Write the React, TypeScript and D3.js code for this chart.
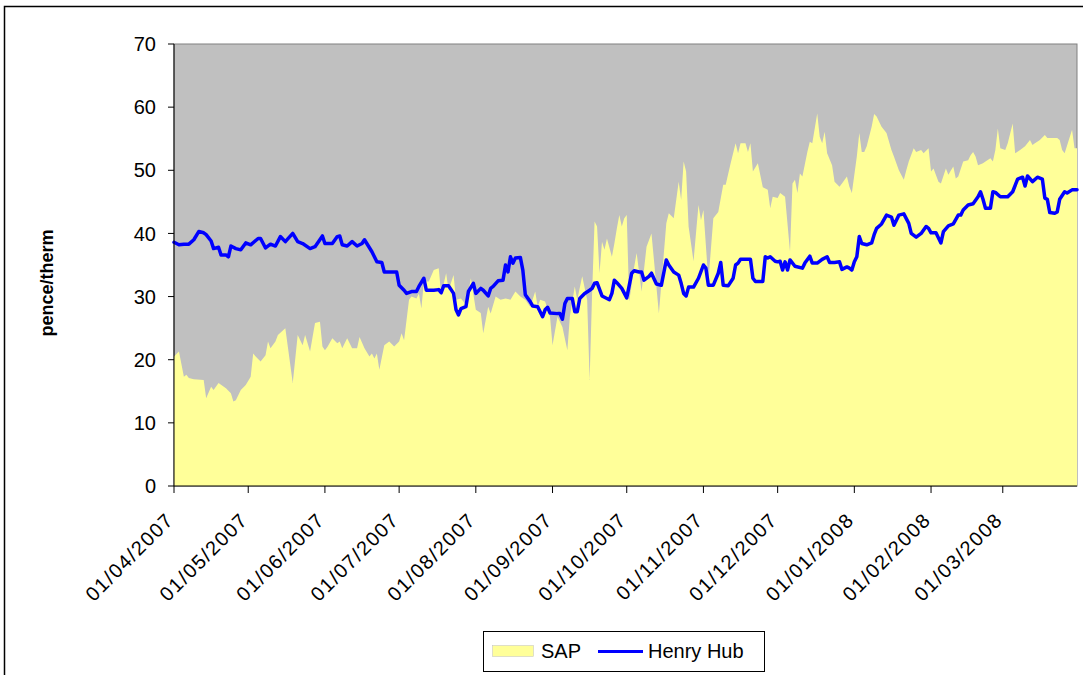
import React from "react";
import * as d3 from "d3";

// SAP daily price, pence/therm
const sap: [string, number][] = [
  ["2007-04-01", 20.5], ["2007-04-03", 21.3], ["2007-04-05", 17.3], ["2007-04-06", 17.6], ["2007-04-07", 17.1],
  ["2007-04-09", 16.9], ["2007-04-13", 16.8], ["2007-04-14", 13.9], ["2007-04-16", 15.7], ["2007-04-17", 15.2],
  ["2007-04-19", 16.3], ["2007-04-22", 15.5], ["2007-04-24", 14.7], ["2007-04-25", 13.4], ["2007-04-26", 13.6],
  ["2007-04-28", 15.2], ["2007-04-30", 16.0],
  ["2007-05-02", 17.3], ["2007-05-03", 21.0], ["2007-05-04", 20.5], ["2007-05-06", 19.7], ["2007-05-08", 20.7],
  ["2007-05-09", 22.9], ["2007-05-10", 21.8], ["2007-05-12", 22.9], ["2007-05-13", 23.9], ["2007-05-16", 25.0],
  ["2007-05-17", 22.1], ["2007-05-19", 16.3], ["2007-05-21", 23.9], ["2007-05-23", 22.3], ["2007-05-24", 23.9],
  ["2007-05-26", 21.3], ["2007-05-28", 25.8], ["2007-05-30", 26.0], ["2007-05-31", 22.1],
  ["2007-06-01", 21.5], ["2007-06-02", 22.0], ["2007-06-04", 23.4], ["2007-06-06", 22.6], ["2007-06-07", 22.9],
  ["2007-06-08", 21.8], ["2007-06-10", 23.4], ["2007-06-12", 21.8], ["2007-06-14", 21.8], ["2007-06-15", 23.6],
  ["2007-06-17", 21.8], ["2007-06-19", 20.5], ["2007-06-20", 21.0], ["2007-06-21", 20.2], ["2007-06-22", 21.0],
  ["2007-06-23", 18.4], ["2007-06-25", 22.3], ["2007-06-27", 22.9], ["2007-06-29", 22.1],
  ["2007-07-01", 22.9], ["2007-07-02", 24.2], ["2007-07-03", 23.1], ["2007-07-05", 29.5], ["2007-07-06", 30.0],
  ["2007-07-08", 29.7], ["2007-07-09", 30.5], ["2007-07-10", 28.1], ["2007-07-11", 32.4], ["2007-07-13", 32.4],
  ["2007-07-15", 34.2], ["2007-07-17", 34.5], ["2007-07-18", 30.3], ["2007-07-20", 33.7], ["2007-07-21", 31.0],
  ["2007-07-23", 33.4], ["2007-07-24", 29.5], ["2007-07-26", 29.7], ["2007-07-28", 28.7], ["2007-07-30", 32.9],
  ["2007-08-01", 27.9], ["2007-08-03", 27.4], ["2007-08-04", 24.2], ["2007-08-06", 28.4], ["2007-08-07", 27.3],
  ["2007-08-09", 30.0], ["2007-08-11", 29.5], ["2007-08-13", 29.7], ["2007-08-15", 29.5], ["2007-08-17", 30.8],
  ["2007-08-19", 30.0], ["2007-08-21", 29.5], ["2007-08-23", 28.4], ["2007-08-25", 30.8], ["2007-08-26", 28.4],
  ["2007-08-27", 29.5], ["2007-08-29", 29.2], ["2007-08-31", 26.8],
  ["2007-09-01", 22.3], ["2007-09-03", 26.8], ["2007-09-05", 25.2], ["2007-09-07", 21.5], ["2007-09-08", 26.8],
  ["2007-09-10", 31.6], ["2007-09-11", 29.5], ["2007-09-13", 33.2], ["2007-09-15", 29.5], ["2007-09-16", 16.8],
  ["2007-09-17", 30.5], ["2007-09-18", 41.9], ["2007-09-19", 41.1], ["2007-09-20", 33.7], ["2007-09-21", 38.7],
  ["2007-09-22", 37.4], ["2007-09-23", 39.2], ["2007-09-25", 36.3], ["2007-09-26", 38.4], ["2007-09-27", 40.8],
  ["2007-09-28", 42.9], ["2007-09-29", 41.1], ["2007-09-30", 42.4],
  ["2007-10-01", 42.9], ["2007-10-02", 29.2], ["2007-10-04", 34.7], ["2007-10-05", 36.9], ["2007-10-07", 30.8],
  ["2007-10-09", 37.9], ["2007-10-11", 40.0], ["2007-10-12", 35.8], ["2007-10-14", 27.3], ["2007-10-15", 32.1],
  ["2007-10-17", 41.6], ["2007-10-18", 43.2], ["2007-10-20", 42.4], ["2007-10-22", 48.2], ["2007-10-23", 45.3],
  ["2007-10-24", 51.4], ["2007-10-25", 49.8], ["2007-10-26", 41.1], ["2007-10-28", 35.6], ["2007-10-30", 44.5],
  ["2007-10-31", 42.1],
  ["2007-11-01", 43.7], ["2007-11-03", 32.4], ["2007-11-05", 42.4], ["2007-11-07", 43.4], ["2007-11-09", 47.7],
  ["2007-11-10", 47.7], ["2007-11-12", 51.1], ["2007-11-14", 54.3], ["2007-11-15", 52.7], ["2007-11-16", 54.3],
  ["2007-11-18", 54.3], ["2007-11-19", 52.9], ["2007-11-20", 54.3], ["2007-11-21", 49.8], ["2007-11-23", 51.1],
  ["2007-11-25", 47.3], ["2007-11-27", 46.9], ["2007-11-28", 44.0], ["2007-11-29", 45.8],
  ["2007-12-01", 45.6], ["2007-12-02", 46.4], ["2007-12-04", 45.8], ["2007-12-06", 37.1], ["2007-12-07", 47.9],
  ["2007-12-08", 48.5], ["2007-12-09", 46.4], ["2007-12-10", 49.5], ["2007-12-11", 49.0], ["2007-12-13", 52.9],
  ["2007-12-14", 54.5], ["2007-12-15", 54.3], ["2007-12-17", 59.0], ["2007-12-18", 55.3], ["2007-12-19", 54.3],
  ["2007-12-20", 56.1], ["2007-12-21", 52.7], ["2007-12-23", 50.8], ["2007-12-24", 48.2], ["2007-12-26", 47.4],
  ["2007-12-27", 47.9], ["2007-12-29", 49.0], ["2007-12-30", 47.4], ["2007-12-31", 46.4],
  ["2008-01-02", 52.2], ["2008-01-03", 55.9], ["2008-01-04", 52.9], ["2008-01-05", 52.9], ["2008-01-06", 53.8],
  ["2008-01-08", 56.9], ["2008-01-09", 58.9], ["2008-01-10", 58.5], ["2008-01-12", 56.9], ["2008-01-14", 55.9],
  ["2008-01-16", 53.2], ["2008-01-17", 52.2], ["2008-01-19", 50.0], ["2008-01-21", 48.5], ["2008-01-22", 50.0],
  ["2008-01-23", 51.4], ["2008-01-25", 53.5], ["2008-01-26", 52.9], ["2008-01-28", 53.2], ["2008-01-29", 52.7],
  ["2008-01-31", 53.5],
  ["2008-02-01", 49.8], ["2008-02-02", 50.3], ["2008-02-04", 48.2], ["2008-02-05", 47.9], ["2008-02-07", 50.3],
  ["2008-02-08", 49.3], ["2008-02-10", 50.6], ["2008-02-11", 48.7], ["2008-02-12", 49.0], ["2008-02-14", 51.4],
  ["2008-02-16", 51.6], ["2008-02-17", 52.4], ["2008-02-18", 52.9], ["2008-02-19", 52.2], ["2008-02-20", 50.8],
  ["2008-02-22", 51.1], ["2008-02-23", 51.4], ["2008-02-25", 51.9], ["2008-02-26", 51.4], ["2008-02-27", 53.2],
  ["2008-02-28", 56.6], ["2008-02-29", 53.5],
  ["2008-03-02", 53.2], ["2008-03-03", 54.3], ["2008-03-05", 57.4], ["2008-03-06", 52.7], ["2008-03-08", 53.2],
  ["2008-03-10", 53.8], ["2008-03-12", 54.8], ["2008-03-13", 54.0], ["2008-03-14", 54.3], ["2008-03-16", 54.8],
  ["2008-03-18", 55.6], ["2008-03-19", 55.1], ["2008-03-21", 55.1], ["2008-03-23", 55.1], ["2008-03-24", 54.8],
  ["2008-03-25", 53.2], ["2008-03-26", 52.7], ["2008-03-29", 56.4], ["2008-03-30", 53.5], ["2008-03-31", 53.5],
];

// Henry Hub, converted to pence/therm
const henryHub: [string, number][] = [
  ["2007-04-01", 38.6], ["2007-04-03", 38.2], ["2007-04-05", 38.3], ["2007-04-07", 38.3], ["2007-04-09", 39.0],
  ["2007-04-11", 40.3], ["2007-04-13", 40.1], ["2007-04-14", 39.8], ["2007-04-16", 38.8], ["2007-04-17", 37.6],
  ["2007-04-19", 37.8], ["2007-04-20", 36.6], ["2007-04-22", 36.6], ["2007-04-23", 36.3], ["2007-04-24", 38.0],
  ["2007-04-26", 37.6], ["2007-04-28", 37.4], ["2007-04-30", 38.5],
  ["2007-05-02", 38.2], ["2007-05-05", 39.2], ["2007-05-06", 39.2], ["2007-05-08", 37.7], ["2007-05-10", 38.3],
  ["2007-05-12", 38.0], ["2007-05-14", 39.5], ["2007-05-16", 38.7], ["2007-05-19", 40.0], ["2007-05-21", 38.7],
  ["2007-05-23", 38.4], ["2007-05-26", 37.6], ["2007-05-28", 37.9], ["2007-05-31", 39.6],
  ["2007-06-01", 38.4], ["2007-06-04", 38.4], ["2007-06-06", 39.5], ["2007-06-07", 39.6], ["2007-06-08", 38.2],
  ["2007-06-10", 38.0], ["2007-06-12", 38.7], ["2007-06-14", 38.0], ["2007-06-16", 38.4], ["2007-06-17", 39.0],
  ["2007-06-20", 37.1], ["2007-06-22", 35.5], ["2007-06-24", 35.4], ["2007-06-25", 33.9], ["2007-06-27", 33.9],
  ["2007-06-30", 33.9],
  ["2007-07-01", 31.8], ["2007-07-03", 31.0], ["2007-07-04", 30.5], ["2007-07-06", 30.8], ["2007-07-08", 30.8],
  ["2007-07-09", 31.6], ["2007-07-11", 32.9], ["2007-07-12", 31.0], ["2007-07-15", 31.0], ["2007-07-17", 31.1],
  ["2007-07-18", 30.6], ["2007-07-19", 31.7], ["2007-07-21", 31.7], ["2007-07-23", 30.5], ["2007-07-24", 27.9],
  ["2007-07-25", 27.1], ["2007-07-26", 28.1], ["2007-07-28", 28.4], ["2007-07-29", 30.8], ["2007-07-31", 32.1],
  ["2007-08-01", 30.5], ["2007-08-03", 31.3], ["2007-08-04", 31.0], ["2007-08-06", 30.1], ["2007-08-07", 31.3],
  ["2007-08-08", 31.6], ["2007-08-10", 32.5], ["2007-08-12", 32.6], ["2007-08-13", 35.0], ["2007-08-14", 33.9],
  ["2007-08-15", 36.3], ["2007-08-16", 35.3], ["2007-08-17", 36.1], ["2007-08-19", 36.2], ["2007-08-20", 34.2],
  ["2007-08-21", 30.3], ["2007-08-23", 29.2], ["2007-08-24", 28.5], ["2007-08-26", 28.4], ["2007-08-28", 26.8],
  ["2007-08-29", 27.9], ["2007-08-30", 28.3], ["2007-08-31", 27.4],
  ["2007-09-03", 27.3], ["2007-09-04", 27.3], ["2007-09-05", 26.4], ["2007-09-06", 28.9], ["2007-09-07", 29.7],
  ["2007-09-09", 29.7], ["2007-09-10", 27.6], ["2007-09-11", 27.6], ["2007-09-12", 29.7], ["2007-09-14", 30.5],
  ["2007-09-16", 31.0], ["2007-09-17", 31.3], ["2007-09-18", 32.1], ["2007-09-19", 32.2], ["2007-09-21", 30.1],
  ["2007-09-22", 29.9], ["2007-09-24", 29.5], ["2007-09-25", 30.5], ["2007-09-26", 32.6], ["2007-09-27", 32.2],
  ["2007-09-29", 31.3],
  ["2007-10-01", 29.8], ["2007-10-03", 33.7], ["2007-10-04", 34.1], ["2007-10-06", 33.9], ["2007-10-07", 33.9],
  ["2007-10-08", 32.6], ["2007-10-10", 33.2], ["2007-10-11", 33.7], ["2007-10-13", 32.0], ["2007-10-15", 31.8],
  ["2007-10-17", 35.8], ["2007-10-18", 35.0], ["2007-10-20", 33.9], ["2007-10-22", 33.4], ["2007-10-23", 32.1],
  ["2007-10-24", 30.5], ["2007-10-25", 30.1], ["2007-10-26", 31.5], ["2007-10-28", 31.5], ["2007-10-30", 32.9],
  ["2007-11-01", 35.0], ["2007-11-02", 34.5], ["2007-11-03", 31.8], ["2007-11-05", 31.8], ["2007-11-07", 33.7],
  ["2007-11-08", 35.4], ["2007-11-09", 31.8], ["2007-11-11", 31.7], ["2007-11-13", 32.9], ["2007-11-14", 35.0],
  ["2007-11-15", 35.3], ["2007-11-16", 35.9], ["2007-11-18", 35.9], ["2007-11-20", 35.9], ["2007-11-21", 32.9],
  ["2007-11-22", 32.4], ["2007-11-25", 32.4], ["2007-11-26", 36.3], ["2007-11-27", 36.1], ["2007-11-28", 36.3],
  ["2007-11-30", 35.6],
  ["2007-12-01", 35.5], ["2007-12-02", 35.6], ["2007-12-03", 34.2], ["2007-12-04", 35.5], ["2007-12-05", 34.2],
  ["2007-12-06", 35.8], ["2007-12-08", 34.8], ["2007-12-11", 34.5], ["2007-12-12", 35.3], ["2007-12-14", 36.4],
  ["2007-12-15", 35.3], ["2007-12-17", 35.3], ["2007-12-19", 35.9], ["2007-12-21", 36.3], ["2007-12-22", 35.4],
  ["2007-12-24", 35.4], ["2007-12-26", 35.5], ["2007-12-27", 34.3], ["2007-12-29", 34.7], ["2007-12-30", 34.5],
  ["2007-12-31", 34.2],
  ["2008-01-01", 35.5], ["2008-01-02", 36.3], ["2008-01-03", 39.5], ["2008-01-04", 38.4], ["2008-01-06", 38.2],
  ["2008-01-08", 38.5], ["2008-01-09", 39.8], ["2008-01-10", 40.8], ["2008-01-12", 41.5], ["2008-01-14", 42.9],
  ["2008-01-16", 42.6], ["2008-01-17", 41.3], ["2008-01-19", 42.9], ["2008-01-21", 43.1], ["2008-01-23", 41.6],
  ["2008-01-24", 40.0], ["2008-01-26", 39.4], ["2008-01-28", 40.0], ["2008-01-30", 41.1], ["2008-01-31", 40.8],
  ["2008-02-01", 40.1], ["2008-02-03", 40.1], ["2008-02-05", 38.5], ["2008-02-06", 40.3], ["2008-02-08", 41.2],
  ["2008-02-10", 41.5], ["2008-02-12", 42.9], ["2008-02-13", 42.9], ["2008-02-14", 43.7], ["2008-02-16", 44.5],
  ["2008-02-18", 44.7], ["2008-02-20", 45.8], ["2008-02-21", 46.6], ["2008-02-22", 45.4], ["2008-02-23", 44.0],
  ["2008-02-25", 44.0], ["2008-02-26", 46.6], ["2008-02-27", 46.5], ["2008-02-29", 45.8],
  ["2008-03-03", 45.8], ["2008-03-05", 46.6], ["2008-03-07", 48.6], ["2008-03-09", 48.9], ["2008-03-10", 47.5],
  ["2008-03-11", 49.1], ["2008-03-13", 48.2], ["2008-03-15", 48.9], ["2008-03-17", 48.6], ["2008-03-18", 45.6],
  ["2008-03-19", 45.4], ["2008-03-20", 43.3], ["2008-03-22", 43.2], ["2008-03-23", 43.4], ["2008-03-24", 45.4],
  ["2008-03-26", 46.6], ["2008-03-27", 46.4], ["2008-03-29", 46.9], ["2008-03-31", 46.9],
];

const yTicks = [0, 10, 20, 30, 40, 50, 60, 70];
const dateRange = ["2007-04-01", "2008-03-31"];
const seriesNames = ["SAP", "Henry Hub"];
const yTitle = "pence/therm";

const width = 1083;
const height = 675;
const margin = { left: 174, top: 44, right: 6, bottom: 189 };
const font = "'Liberation Sans', Arial, Helvetica, sans-serif";

const parse = d3.timeParse("%Y-%m-%d");
const fmt = d3.timeFormat("%d/%m/%Y");

export default function App() {
  const innerW = width - margin.left - margin.right;
  const innerH = height - margin.top - margin.bottom;

  const x = d3
    .scaleTime()
    .domain(dateRange.map((s) => parse(s) as Date))
    .range([margin.left, margin.left + innerW]);
  const y = d3
    .scaleLinear()
    .domain([0, 70])
    .range([margin.top + innerH, margin.top]);

  const sapPts = sap.map(([d, v]) => ({ date: parse(d) as Date, v }));
  const hhPts = henryHub.map(([d, v]) => ({ date: parse(d) as Date, v }));

  const area = d3
    .area<{ date: Date; v: number }>()
    .x((d) => x(d.date))
    .y0(y(0))
    .y1((d) => y(d.v));
  const line = d3
    .line<{ date: Date; v: number }>()
    .x((d) => x(d.date))
    .y((d) => y(d.v));

  const [d0, d1] = x.domain();
  const months = d3.timeMonth.range(d0, d3.timeDay.offset(d1, 1));
  const x0 = margin.left;
  const x1 = margin.left + innerW;
  const yBase = y(0);

  return (
    <div style={{ position: "absolute", left: 0, top: 0 }}>
      <svg width={width} height={height} style={{ display: "block", fontFamily: font }}>
        <rect x={0} y={0} width={width} height={height} fill="#ffffff" />
        <rect x={4.5} y={6.5} width={width + 20} height={height + 20} fill="none" stroke="#000" strokeWidth={1.5} />

        {/* plot area */}
        <rect x={x0} y={y(70)} width={innerW} height={innerH} fill="#c0c0c0" stroke="#808080" strokeWidth={1} />
        <path d={area(sapPts) ?? ""} fill="#ffff99" />
        <path
          d={line(hhPts) ?? ""}
          fill="none"
          stroke="#0000ff"
          strokeWidth={3.5}
          strokeLinejoin="round"
          strokeLinecap="round"
        />

        {/* y axis */}
        <line x1={x0} x2={x0} y1={y(70)} y2={yBase} stroke="#000" />
        {yTicks.map((t) => (
          <g key={t}>
            <line x1={x0 - 6} x2={x0} y1={y(t)} y2={y(t)} stroke="#000" />
            <text x={156} y={y(t)} dy="0.36em" textAnchor="end" fontSize={20} fill="#000">
              {t}
            </text>
          </g>
        ))}
        <text
          transform={`translate(53,283) rotate(-90)`}
          textAnchor="middle"
          fontSize={18}
          fontWeight="bold"
          fill="#000"
        >
          {yTitle}
        </text>

        {/* x axis */}
        <line x1={x0} x2={x1} y1={yBase} y2={yBase} stroke="#000" />
        {months.map((m) => (
          <g key={m.getTime()}>
            <line x1={x(m)} x2={x(m)} y1={yBase} y2={yBase + 7} stroke="#000" />
            <text
              transform={`translate(${x(m) - 9},${yBase + 25}) rotate(-45)`}
              textAnchor="end"
              dy="0.71em"
              fontSize={20}
              letterSpacing={1.5}
              fill="#000"
            >
              {fmt(m)}
            </text>
          </g>
        ))}

        {/* legend */}
        <rect x={483.5} y={631.5} width={281} height={40} fill="#fff" stroke="#000" />
        <rect x={492.5} y={645.5} width={41} height={11} fill="#ffff99" stroke="#c0c0c0" strokeWidth={0.5} />
        <text x={541} y={658} fontSize={20} fill="#000">
          {seriesNames[0]}
        </text>
        <line x1={598} x2={643} y1={651.5} y2={651.5} stroke="#0000ff" strokeWidth={3} />
        <text x={648} y={658} fontSize={20} fill="#000">
          {seriesNames[1]}
        </text>
      </svg>
    </div>
  );
}
